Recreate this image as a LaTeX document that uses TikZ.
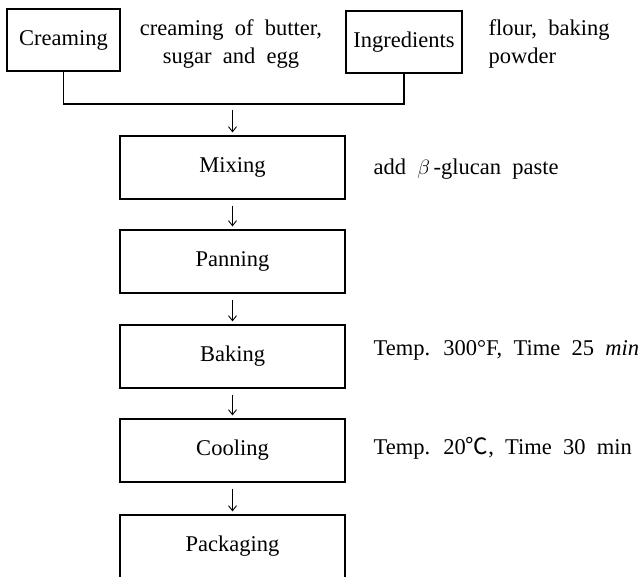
\documentclass[tikz,border=0pt]{standalone}
\usepackage{fontspec}
\setmainfont[WordSpace=2.0]{Liberation Serif}
\newfontfamily\cjk{Noto Sans CJK KR}
\usetikzlibrary{arrows.meta}
\begin{document}
\begin{tikzpicture}[x=1pt, y=-1pt, line width=1.2pt,
  proc node/.style={rectangle,draw,minimum width=225pt,minimum height=63pt,inner sep=0pt},
  top node/.style={rectangle,draw,minimum height=62pt,inner sep=0pt},
  note node/.style={anchor=west,inner sep=0pt},
  flow/.style={line width=0.9pt,-{Straight Barb[length=5pt,width=8pt]},shorten <=6pt,shorten >=3pt}]
\useasboundingbox (0,0) rectangle (642,576);
\begin{scope}[every node/.style={font=\fontsize{22.5}{28}\selectfont}]
\node[top node,minimum width=113pt] (cream) at (63.5,40) {Creaming};
\node[top node,minimum width=116pt] (ingr) at (404,42) {Ingredients};
\node[align=center] (creamtxt) at (231,44) {creaming of butter,\\sugar and egg};
\node[align=left,anchor=west,inner sep=0pt] (ingrtxt) at (488,44) {flour, baking\\powder};
\node[proc node] (mix) at (232.5,167.5) {Mixing};
\node[proc node] (pan) at (232.5,261.5) {Panning};
\node[proc node] (bake) at (232.5,356.5) {Baking};
\node[proc node] (cool) at (232.5,450.5) {Cooling};
\node[proc node] (pack) at (232.5,546.5) {Packaging};
\node[note node] (mixtxt) at (373,169) {add $\beta$\,-glucan paste};
\node[note node] (baketxt) at (373,350) {Temp. 300°F, Time 25 \textit{min}};
\node[note node] (cooltxt) at (373,448) {Temp. 20{\cjk ℃}, Time 30 min};
\end{scope}
%join of the two inputs
\coordinate (join) at (232.5,104);
\draw (cream) |- (join) -| (ingr);
\begin{scope}[every edge/.style={draw=black,flow}]
\draw (join) edge (mix);
\draw (mix) edge (pan);
\draw (pan) edge (bake);
\draw (bake) edge (cool);
\draw (cool) edge (pack);
\end{scope}
\end{tikzpicture}
\end{document}
